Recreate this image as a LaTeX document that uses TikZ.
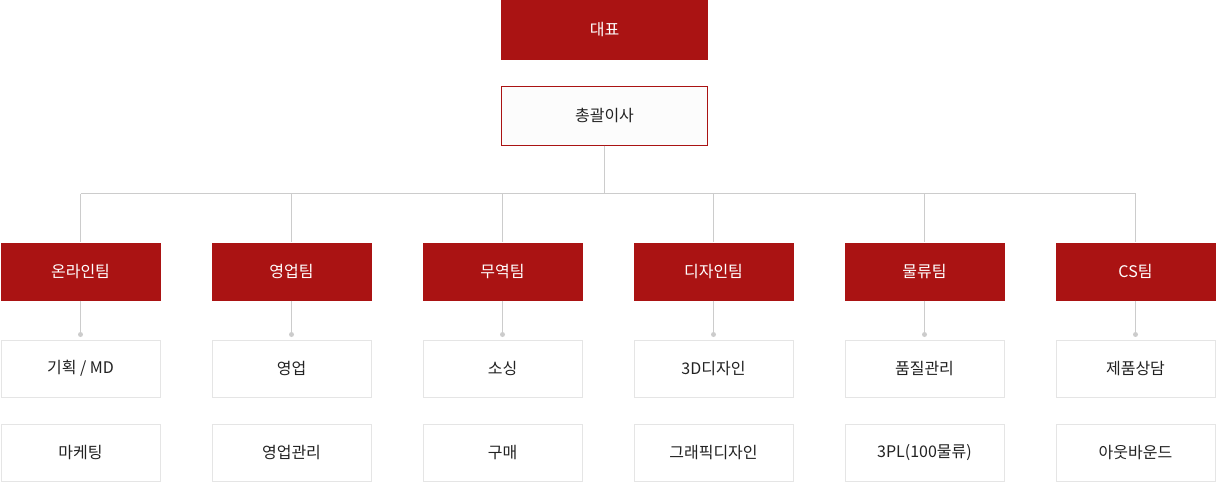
\documentclass[tikz,border=0pt]{standalone}
\usepackage{fontspec}
\setmainfont{Noto Sans CJK KR}
\definecolor{teamred}{HTML}{AA1313}
\definecolor{linegray}{HTML}{CCCCCC}
\definecolor{boxgray}{HTML}{E5E5E5}
\definecolor{txt}{HTML}{222222}
\begin{document}
\begin{tikzpicture}[x=1pt,y=-1pt,
  redbox/.style={fill=teamred,draw=none,minimum width=160pt,minimum height=58pt,inner sep=0pt,text=white,font=\fontsize{16}{19}\selectfont},
  topbox/.style={draw=teamred,line width=1pt,fill=white!99!black,minimum width=206pt,minimum height=59pt,inner sep=0pt,text=txt,font=\fontsize{16}{19}\selectfont},
  subbox/.style={draw=boxgray,line width=1pt,fill=white,minimum width=159pt,minimum height=57pt,inner sep=0pt,text=txt,font=\fontsize{16}{19}\selectfont},
  conn/.style={draw=linegray,line width=1pt},
  dotmark/.style={circle,fill=linegray,inner sep=0pt,minimum size=5pt}]
\useasboundingbox (0,0) rectangle (1216,482);
\node[redbox,minimum width=207pt,minimum height=60pt] (ceo) at (604.5,30) {대표};
\node[topbox] (dir) at (604.5,115.5) {총괄이사};
\coordinate (hub) at (604.5,193.5);
\foreach \i/\cx/\team/\subA/\subB in {
  1/80.5/온라인팀/{기획 / MD}/마케팅,
  2/291.5/영업팀/영업/영업관리,
  3/502.5/무역팀/소싱/구매,
  4/713.5/디자인팀/3D디자인/그래픽디자인,
  5/924.5/물류팀/품질관리/3PL(100물류),
  6/1135.5/CS팀/제품상담/아웃바운드}{
  \node[redbox] (t\i) at (\cx,271.5) {\team};
  \node[subbox] (s\i) at (\cx,368.5) {\subA};
  \node[subbox] (u\i) at (\cx,452.5) {\subB};
  \coordinate (b\i) at (\cx,193.5);
  \node[dotmark] (d\i) at (\cx,334.5) {};
  \draw[conn] (b\i) -- (t\i.north);
  \draw[conn] (t\i.south) -- (d\i.center);
}
\draw[conn] (dir.south) -- (hub);
\draw[conn] (b1) -- (b6);
\end{tikzpicture}
\end{document}
